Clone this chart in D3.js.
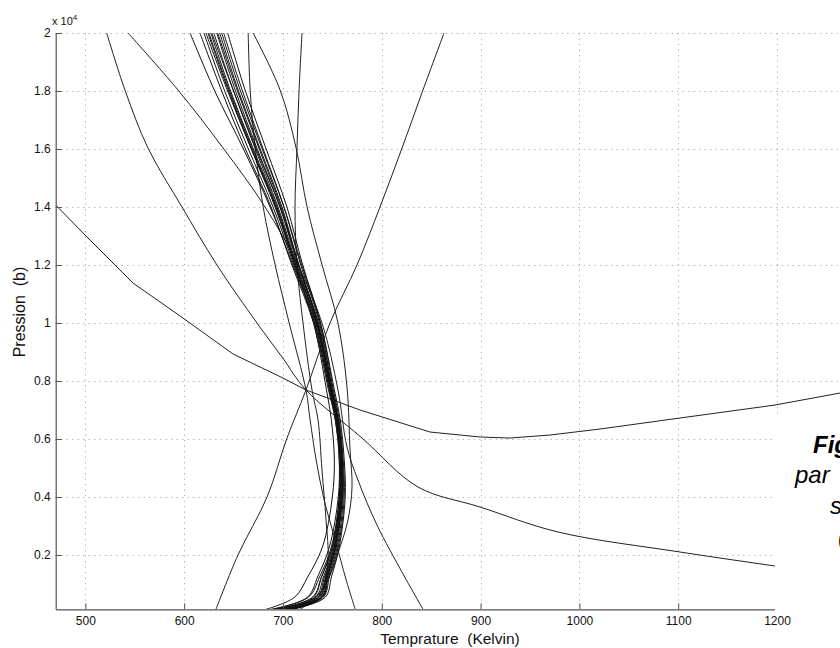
<!DOCTYPE html>
<html>
<head>
<meta charset="utf-8">
<script src="https://cdn.jsdelivr.net/npm/d3@7"></script>
<style>
  html, body { margin: 0; padding: 0; background: #fff; }
  svg { display: block; font-family: "Liberation Sans", Arial, Helvetica, sans-serif; }
</style>
</head>
<body>
<svg id="chart" width="840" height="648"></svg>
<script>
// ---------------- data ----------------
const xTicks = [500, 600, 700, 800, 900, 1000, 1100, 1200];
const yTicks = [2000, 4000, 6000, 8000, 10000, 12000, 14000, 16000, 18000, 20000];
const yTickLabels = ["0.2", "0.4", "0.6", "0.8", "1", "1.2", "1.4", "1.6", "1.8", "2"];

// pressure levels shared by the converged bundle of profiles
const bundleP = [20000, 18000, 16000, 14000, 12000, 10000, 7700, 6650, 5280, 4000, 2280, 1240, 550, 128];
const bundleT01 = [606, 631, 660, 687, 710, 732, 747, 754, 758, 757, 749, 737, 726, 688];
const bundleT02 = [616, 638, 662, 688, 709, 731, 746, 753, 757, 757, 750, 739, 730, 692];
const bundleT03 = [620, 641, 665, 690, 711, 732, 747, 753, 758, 758, 751, 741, 733, 695];
const bundleT04 = [624, 645, 668, 692, 712, 733, 748, 754, 758, 758, 752, 742, 735, 698];
const bundleT05 = [627, 647, 670, 694, 713, 734, 748, 755, 759, 759, 752, 743, 736, 700];
const bundleT06 = [630, 650, 672, 695, 714, 734, 749, 755, 759, 759, 753, 744, 737, 702];
const bundleT07 = [633, 652, 674, 697, 715, 735, 749, 755, 760, 760, 753, 744, 738, 704];
const bundleT08 = [636, 655, 677, 699, 716, 736, 750, 756, 760, 760, 754, 745, 739, 706];
const bundleT09 = [640, 659, 680, 701, 718, 737, 750, 756, 760, 761, 755, 746, 740, 708];
const bundleT10 = [644, 662, 683, 704, 720, 738, 751, 757, 761, 762, 756, 747, 741, 709];
const bundleT11 = [628, 650, 673, 697, 716, 735, 748, 754, 757, 756, 747, 735, 725, 690];
const bundleT12 = [634, 654, 676, 698, 716, 735, 749, 755, 759, 758, 750, 739, 731, 694];
const bundleT13 = [622, 644, 668, 693, 713, 734, 749, 756, 760, 760, 753, 745, 740, 705];
const bundleT14 = [638, 657, 679, 701, 719, 738, 752, 758, 762, 763, 757, 749, 743, 710];
const bundleT15 = [625, 646, 669, 693, 712, 731, 744, 749, 752, 750, 740, 725, 712, 683];

// outlying profiles (early iterations)
const profA_T = [470, 499.7, 548.2, 598.8, 649.5, 700, 723.3, 778, 848.8, 899.5, 929.9, 970.4, 1021, 1102, 1198, 1264];
const profA_P = [14069, 13034, 11379, 10172, 8931, 8103, 7690, 7000, 6241, 6069, 6034, 6138, 6345, 6724, 7172, 7586];

const profB_T = [521.6, 540.1, 563.4, 597.8, 633.2, 673.7, 699, 723.3, 780.0, 836.7, 899.5, 978.4, 1101.9, 1198];
const profB_P = [20000, 18034, 16034, 14000, 12000, 10000, 8828, 7690, 6034, 4345, 3655, 2793, 2103, 1621];

const profC_T = [543.2, 593.8, 639.4, 681.9, 715.2, 739.5, 755.7, 764.8, 775.9, 796.1, 841.7];
const profC_P = [20000, 18034, 16034, 14000, 12000, 10000, 7690, 5724, 4586, 2966, 128];

const profE_T = [632.2, 654.5, 683.9, 704.1, 723.3, 747.6, 774.9, 798.2, 820.5, 841.7, 863];
const profE_P = [128, 2000, 4000, 6034, 7690, 10000, 12000, 14000, 16034, 18034, 20000];

const profH_T = [664.8, 666.8, 671.9, 680, 692.1, 706.3, 723.3, 727.5, 733.6, 741.7, 752.9, 764, 773.1];
const profH_P = [20000, 18034, 16034, 14000, 12000, 10000, 7690, 6655, 5276, 3897, 2517, 1138, 128];

const profI_T = [719.3, 716.3, 714.2, 712.2, 714.2, 720.3, 729.4, 735.5, 739.5, 743.6, 745.6, 739.5, 717.3];
const profI_P = [20000, 18034, 16034, 14000, 12000, 10000, 7690, 6655, 4931, 3207, 1828, 793, 128];

const profJ_T = [669.8, 697.1, 713.3, 724.4, 739.6, 755.7, 764.8, 767.9, 769.9, 765.8, 757.8, 747.6, 735.5, 707.2];
const profJ_P = [20000, 18034, 16034, 14000, 12000, 10000, 7793, 5621, 4345, 3207, 2276, 1310, 621, 128];

const captionLines = ["Fig", "par", "s", "("];

// ---------------- chart ----------------
const svg = d3.select("#chart");
svg.append("rect").attr("width", 840).attr("height", 648).attr("fill", "#fff");

const x = d3.scaleLinear().domain([470, 1200]).range([55.7, 777]);
const y = d3.scaleLinear().domain([128, 20000]).range([609.3, 33]);
const xRight = 900; // axes continue past the visible window

// grid
const grid = svg.append("g").attr("stroke", "#aaa").attr("stroke-width", 1)
  .attr("stroke-dasharray", "1.2,4.3").attr("fill", "none");
grid.selectAll("line.h").data(yTicks).join("line")
  .attr("x1", x(470)).attr("x2", xRight)
  .attr("y1", d => Math.round(y(d)) + 0.5).attr("y2", d => Math.round(y(d)) + 0.5);
grid.selectAll("line.v").data(xTicks).join("line")
  .attr("x1", d => Math.round(x(d)) + 0.5).attr("x2", d => Math.round(x(d)) + 0.5)
  .attr("y1", y(20000)).attr("y2", y(128));

// clip for data
svg.append("clipPath").attr("id", "plotclip").append("rect")
  .attr("x", x(470)).attr("y", y(20000)).attr("width", xRight - x(470)).attr("height", y(128) - y(20000));

const smooth = d3.line().x(d => x(d[0])).y(d => y(d[1])).curve(d3.curveCatmullRom.alpha(0.5));
const poly = d3.line().x(d => x(d[0])).y(d => y(d[1]));
const zip = (T, P) => T.map((t, i) => [t, P[i]]);

const bundles = [bundleT01, bundleT02, bundleT03, bundleT04, bundleT05, bundleT06, bundleT07, bundleT08,
  bundleT09, bundleT10, bundleT11, bundleT12, bundleT13, bundleT14, bundleT15];
const polyOutliers = [[profA_T, profA_P]];
const smoothOutliers = [[profB_T, profB_P], [profC_T, profC_P], [profE_T, profE_P],
  [profH_T, profH_P], [profI_T, profI_P], [profJ_T, profJ_P]];

const dataG = svg.append("g").attr("clip-path", "url(#plotclip)").attr("fill", "none");
dataG.selectAll("path.o").data(polyOutliers).join("path")
  .attr("class", "o")
  .attr("d", d => poly(zip(d[0], d[1])))
  .attr("stroke", "#222").attr("stroke-width", 1).attr("stroke-linejoin", "round");
dataG.selectAll("path.s").data(smoothOutliers).join("path")
  .attr("class", "s")
  .attr("d", d => smooth(zip(d[0], d[1])))
  .attr("stroke", "#222").attr("stroke-width", 1);
dataG.selectAll("path.b").data(bundles).join("path")
  .attr("class", "b")
  .attr("d", d => smooth(zip(d, bundleP)))
  .attr("stroke", "#111").attr("stroke-width", 1);

// axes
const axisColor = "#555";
const gx = svg.append("g").attr("transform", `translate(0,${y(128)})`)
  .call(d3.axisBottom(x).tickValues(xTicks).tickSizeInner(-6).tickSizeOuter(0).tickPadding(7).tickFormat(d3.format("d")));
const gy = svg.append("g").attr("transform", `translate(${x(470)},0)`)
  .call(d3.axisLeft(y).tickValues(yTicks).tickSizeInner(-6).tickSizeOuter(0).tickPadding(5)
    .tickFormat((d, i) => yTickLabels[i]));
[gx, gy].forEach(g => {
  g.select(".domain").attr("stroke", axisColor).attr("stroke-width", 1.2);
  g.selectAll(".tick line").attr("stroke", axisColor);
  g.selectAll(".tick text").attr("fill", "#111").attr("font-size", 12)
    .attr("font-family", '"Liberation Sans", Arial, sans-serif');
});

// exponent label
const expo = svg.append("text").attr("x", 52).attr("y", 25).attr("font-size", 11).attr("fill", "#111");
expo.append("tspan").text("x  10");
expo.append("tspan").attr("dy", -5).attr("font-size", 8).text("4");

// axis titles
svg.append("text").attr("x", 450).attr("y", 644).attr("text-anchor", "middle")
  .attr("font-size", 15.5).attr("fill", "#111").style("white-space", "pre").text("Temprature  (Kelvin)");
svg.append("text").attr("transform", "translate(25,312) rotate(-90)").attr("text-anchor", "middle")
  .attr("font-size", 16).attr("fill", "#111").style("white-space", "pre").text("Pression  (b)");

// caption box overlapping the plot
svg.append("rect").attr("x", 775).attr("y", 418).attr("width", 80).attr("height", 195).attr("fill", "#fff");
const capX = [813, 795, 830, 838];
const capY = [453, 483, 514, 545];
svg.selectAll("text.cap").data(captionLines).join("text")
  .attr("class", "cap")
  .attr("x", (d, i) => capX[i]).attr("y", (d, i) => capY[i])
  .attr("font-size", 24).attr("font-style", "italic")
  .attr("font-weight", (d, i) => i === 0 ? "bold" : "normal")
  .attr("fill", "#000").text(d => d);
</script>
</body>
</html>
